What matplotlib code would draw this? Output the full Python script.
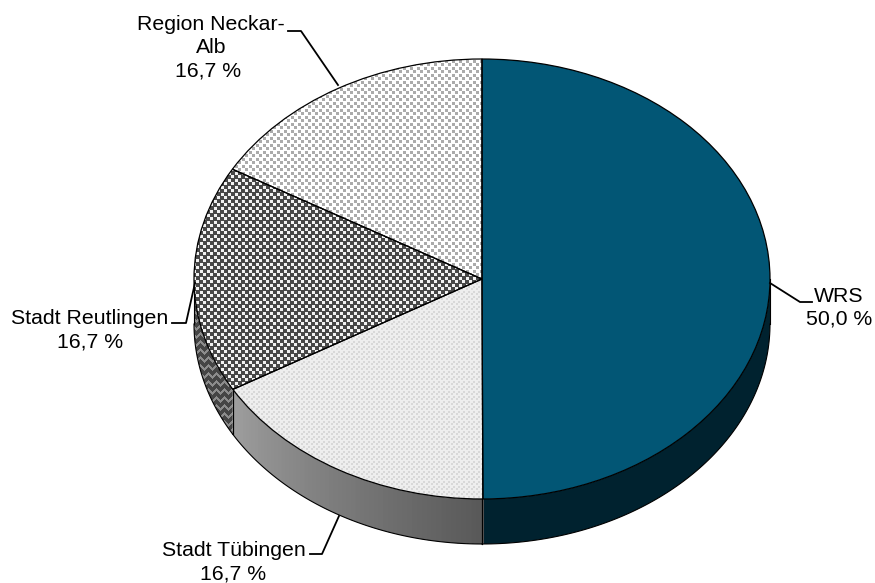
import matplotlib
matplotlib.use("Agg")
import matplotlib.pyplot as plt
import numpy as np
from matplotlib.lines import Line2D
from matplotlib.patches import Polygon
from matplotlib.colors import to_rgb

plt.rcParams['font.family'] = ['Liberation Sans', 'DejaVu Sans']

# Data
labels = ['WRS', 'Stadt Tübingen', 'Stadt Reutlingen', 'Region Neckar-\nAlb']
shares = [50.0, 16.7, 16.7, 16.7]
value_text = ['50,0 %', '16,7 %', '16,7 %', '16,7 %']

W, H = 875, 583
cx, cy = 482, 279      # pie centre in pixels
rx, ry = 288, 220      # pie radii in pixels
depth = 45 / ry

faces = ['#025675', '#d8d8d8', '#484848', '#ffffff']

fig = plt.figure(figsize=(W / 100, H / 100), dpi=100)
ax = fig.add_axes([0, 0, 1, 1])
limits = (-cx / rx, (W - cx) / rx, (cy - H) / ry, cy / ry)


def texture(bg, fg, size, period=7):
    # staggered squares repeated over the whole figure, clipped to a wedge later
    bg, fg = np.array(to_rgb(bg)), np.array(to_rgb(fg))
    yy, xx = np.mgrid[0:H, 0:W]
    m = ((xx % period < size) & (yy % period < size)) | \
        (((xx + period // 2) % period < size) & ((yy + period // 2) % period < size))
    return np.where(m[..., None], fg, bg)


def chevrons(bg, fg, period=8):
    bg, fg = np.array(to_rgb(bg)), np.array(to_rgb(fg))
    yy, xx = np.mgrid[0:H, 0:W]
    tri = np.abs((xx % period) - period / 2)
    m = ((yy + tri) % period) < 3
    return np.where(m[..., None], fg, bg)


def paint(img, clip, zorder):
    im = ax.imshow(img, extent=limits, aspect='auto', interpolation='nearest', zorder=zorder)
    im.set_clip_path(clip)


def wall_outline(a0, a1, col='none'):
    t = np.radians(np.linspace(a0, a1, 100))
    x, y = np.cos(t), np.sin(t)
    return Polygon(np.c_[np.r_[x, x[::-1]], np.r_[y, y[::-1] - depth]], closed=True,
                   facecolor=col, edgecolor='none', lw=0, zorder=1)


def wall_gradient(a0, a1, col_a, col_b):
    n = max(int(abs(a1 - a0)), 1)
    edges = np.linspace(a0, a1, n + 1)
    a, b = np.array(to_rgb(col_a)), np.array(to_rgb(col_b))
    for i in range(n):
        p = wall_outline(edges[i], edges[i + 1] + 0.4, tuple(a * (1 - i / n) + b * (i / n)))
        ax.add_patch(p)


def wall_edges(a0, a1):
    t = np.radians(np.linspace(a0, a1, 100))
    ax.plot(np.cos(t), np.sin(t) - depth, color='black', lw=0.8, zorder=2)
    for a in (t[0], t[-1]):
        ax.plot([np.cos(a)] * 2, [np.sin(a), np.sin(a) - depth], color='black', lw=0.8, zorder=2)


# side wall
ax.add_patch(wall_outline(270, 360, '#00222f'))
wall_gradient(210, 270, '#9e9e9e', '#585858')
p = wall_outline(180, 210)
ax.add_patch(p)
paint(chevrons('#454545', '#8c8c8c'), p, 1.5)
for a0, a1 in [(270, 360), (210, 270), (180, 210)]:
    wall_edges(a0, a1)

# top face
tops, _ = ax.pie(shares, startangle=90, counterclock=False, radius=1,
                 colors=faces, wedgeprops=dict(lw=0))
for w in tops:
    w.set_zorder(3)
paint(texture('#d8d8d8', '#eeeeee', 3, 5), tops[1], 3.2)
paint(texture('#484848', '#f2f2f2', 3), tops[2], 3.2)
paint(texture('#ffffff', '#ababab', 3), tops[3], 3.2)

outline, _ = ax.pie(shares, startangle=90, counterclock=False, radius=1,
                    colors=['none'] * 4, wedgeprops=dict(lw=0.9, edgecolor='black'))
for w in outline:
    w.set_zorder(4)

ax.set_aspect('auto')
ax.set_xlim(limits[0], limits[1])
ax.set_ylim(limits[2], limits[3])
ax.axis('off')

# labels and leader lines, in pixels from top left
name_x = [838.5, 233.5, 89.5, 211]
value_x = [839.5, 233.5, 90, 208.5]
first_y = [296, 550, 319, 24]
leaders = [
    [(770, 283), (800, 302), (812, 302)],
    [(339, 516), (322, 554), (310, 554)],
    [(195, 283), (186, 323), (172, 323)],
    [(338, 85), (301, 31), (288, 31)],
]
line_h = 23.5
for name, val, nx, vx, py, pts in zip(labels, value_text, name_x, value_x, first_y, leaders):
    lines = name.split('\n')
    for i, s in enumerate(lines):
        fig.text(nx / W, 1 - (py + i * line_h) / H, s, ha='center', va='center',
                 fontsize=15.3, color='black')
    fig.text(vx / W, 1 - (py + len(lines) * line_h) / H, val, ha='center', va='center',
             fontsize=15.3, color='black')
    xs = [p[0] / W for p in pts]
    ys = [1 - p[1] / H for p in pts]
    fig.add_artist(Line2D(xs, ys, color='black', lw=1.3))

fig.savefig("out.png", dpi=100)
